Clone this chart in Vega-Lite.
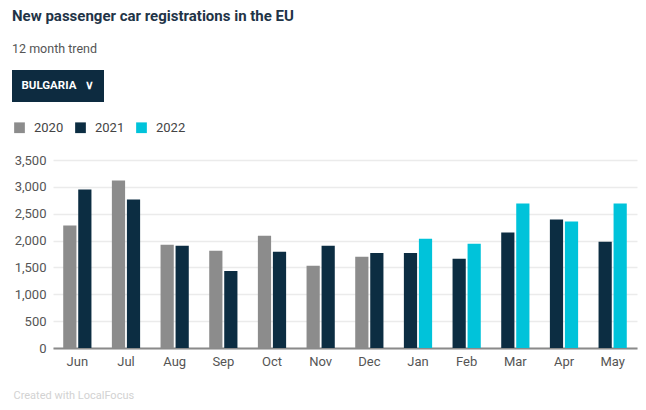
{
  "$schema": "https://vega.github.io/schema/vega-lite/v6.json",
  "background": "white",
  "padding": {"left": 12, "top": 8, "right": 9, "bottom": 4},
  "width": 584,
  "height": 188,
  "title": {
    "text": "New passenger car registrations in the EU",
    "subtitle": "12 month trend",
    "anchor": "start",
    "font": "Roboto",
    "fontSize": 15,
    "fontWeight": "bold",
    "color": "#1f3447",
    "subtitleFont": "Roboto",
    "subtitleFontSize": 12.5,
    "subtitleColor": "#555555",
    "subtitlePadding": 19,
    "offset": 15
  },
  "data": {
    "values": [
      {"month": "Jun", "slot": "prev", "year": "2020", "value": 2280, "country": "BULGARIA"},
      {"month": "Jun", "slot": "curr", "year": "2021", "value": 2950, "country": "BULGARIA"},
      {"month": "Jul", "slot": "prev", "year": "2020", "value": 3120, "country": "BULGARIA"},
      {"month": "Jul", "slot": "curr", "year": "2021", "value": 2765, "country": "BULGARIA"},
      {"month": "Aug", "slot": "prev", "year": "2020", "value": 1920, "country": "BULGARIA"},
      {"month": "Aug", "slot": "curr", "year": "2021", "value": 1905, "country": "BULGARIA"},
      {"month": "Sep", "slot": "prev", "year": "2020", "value": 1810, "country": "BULGARIA"},
      {"month": "Sep", "slot": "curr", "year": "2021", "value": 1435, "country": "BULGARIA"},
      {"month": "Oct", "slot": "prev", "year": "2020", "value": 2090, "country": "BULGARIA"},
      {"month": "Oct", "slot": "curr", "year": "2021", "value": 1790, "country": "BULGARIA"},
      {"month": "Nov", "slot": "prev", "year": "2020", "value": 1530, "country": "BULGARIA"},
      {"month": "Nov", "slot": "curr", "year": "2021", "value": 1905, "country": "BULGARIA"},
      {"month": "Dec", "slot": "prev", "year": "2020", "value": 1700, "country": "BULGARIA"},
      {"month": "Dec", "slot": "curr", "year": "2021", "value": 1770, "country": "BULGARIA"},
      {"month": "Jan", "slot": "prev", "year": "2021", "value": 1770, "country": "BULGARIA"},
      {"month": "Jan", "slot": "curr", "year": "2022", "value": 2035, "country": "BULGARIA"},
      {"month": "Feb", "slot": "prev", "year": "2021", "value": 1660, "country": "BULGARIA"},
      {"month": "Feb", "slot": "curr", "year": "2022", "value": 1940, "country": "BULGARIA"},
      {"month": "Mar", "slot": "prev", "year": "2021", "value": 2150, "country": "BULGARIA"},
      {"month": "Mar", "slot": "curr", "year": "2022", "value": 2690, "country": "BULGARIA"},
      {"month": "Apr", "slot": "prev", "year": "2021", "value": 2390, "country": "BULGARIA"},
      {"month": "Apr", "slot": "curr", "year": "2022", "value": 2355, "country": "BULGARIA"},
      {"month": "May", "slot": "prev", "year": "2021", "value": 1980, "country": "BULGARIA"},
      {"month": "May", "slot": "curr", "year": "2022", "value": 2690, "country": "BULGARIA"}
    ]
  },
  "mark": {"type": "bar", "strokeWidth": 0},
  "encoding": {
    "x": {
      "field": "month",
      "type": "nominal",
      "sort": ["Jun", "Jul", "Aug", "Sep", "Oct", "Nov", "Dec", "Jan", "Feb", "Mar", "Apr", "May"],
      "scale": {"paddingInner": 0.42, "paddingOuter": 0.21},
      "axis": {
        "title": "Created with LocalFocus",
        "titleFont": "Roboto",
        "titleFontSize": 11,
        "titleFontWeight": "normal",
        "titleColor": "#d2d2d2",
        "titleAnchor": "start",
        "titleAlign": "left",
        "titleBaseline": "alphabetic",
        "titleX": -40,
        "titleY": 50,
        "labelAngle": 0,
        "labelFont": "Roboto",
        "labelFontSize": 13,
        "labelColor": "#555555",
        "labelPadding": 7,
        "ticks": false,
        "domainColor": "#8a8a8a",
        "domainWidth": 2,
        "grid": false
      }
    },
    "xOffset": {
      "field": "slot",
      "type": "nominal",
      "sort": ["prev", "curr"],
      "scale": {"paddingInner": 0.12, "paddingOuter": 0}
    },
    "y": {
      "field": "value",
      "type": "quantitative",
      "scale": {"domain": [0, 3500], "nice": false},
      "axis": {
        "title": null,
        "values": [0, 500, 1000, 1500, 2000, 2500, 3000, 3500],
        "format": ",d",
        "labelFont": "Roboto",
        "labelFontSize": 13,
        "labelColor": "#555555",
        "labelPadding": 7,
        "ticks": false,
        "domain": false,
        "gridColor": "#ebebeb",
        "gridWidth": 1.5
      }
    },
    "color": {
      "field": "year",
      "type": "nominal",
      "scale": {"domain": ["2020", "2021", "2022"], "range": ["#8c8c8c", "#0c2d42", "#00c3da"]},
      "legend": {
        "title": null,
        "orient": "none",
        "legendX": -40,
        "legendY": -39,
        "direction": "horizontal",
        "symbolType": "square",
        "symbolSize": 115,
        "symbolStrokeWidth": 0,
        "labelFont": "Roboto",
        "labelFontSize": 13,
        "labelColor": "#444444",
        "labelOffset": 8,
        "columnPadding": 10,
        "padding": 0
      }
    },
    "strokeDash": {
      "field": "country",
      "type": "nominal",
      "legend": {
        "title": null,
        "orient": "none",
        "legendX": -41,
        "legendY": -90,
        "fillColor": "#0d2b40",
        "padding": 10,
        "symbolSize": 0,
        "symbolOpacity": 0,
        "symbolStrokeWidth": 0,
        "labelOffset": -12,
        "labelExpr": "datum.label + '\u00a0\u00a0\u00a0∨'",
        "labelFont": "Roboto",
        "labelFontSize": 11.5,
        "labelFontWeight": "bold",
        "labelColor": "#ffffff"
      }
    }
  },
  "config": {
    "font": "Roboto",
    "view": {"stroke": null}
  }
}
